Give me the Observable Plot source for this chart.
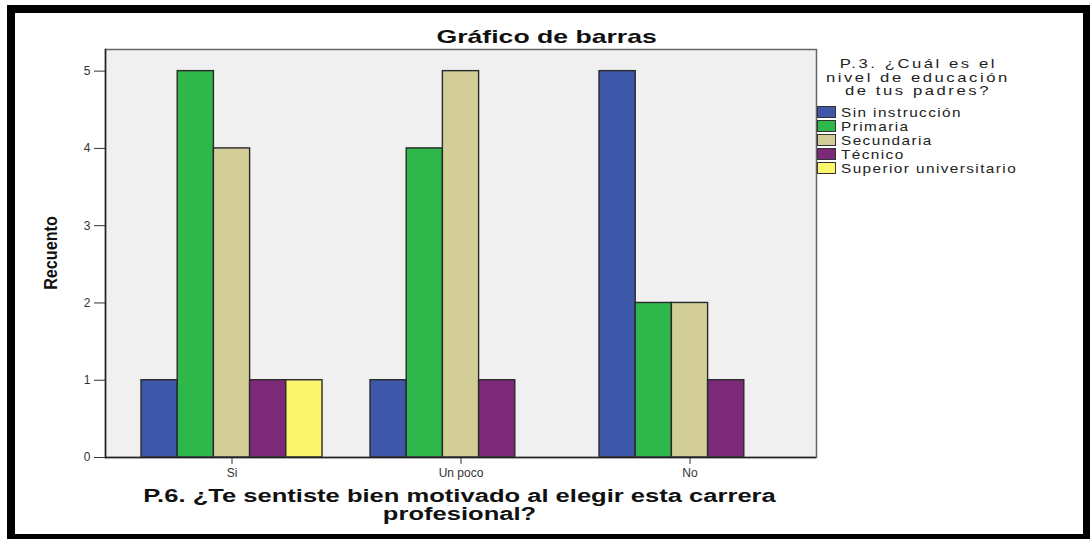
<!DOCTYPE html>
<html><head><meta charset="utf-8">
<script src="https://cdn.jsdelivr.net/npm/d3@7"></script>
<script src="https://cdn.jsdelivr.net/npm/@observablehq/plot@0.6"></script>
<style>
body{margin:0;background:#fff;}
#wrap{position:relative;width:1090px;height:539px;overflow:hidden;font-family:"Liberation Sans",Arial,sans-serif;background:#fff;}
#border{position:absolute;left:7px;top:5px;width:1068px;height:521px;border:8px solid #000;}
#chart{position:absolute;left:0;top:0;}
.t{position:absolute;white-space:nowrap;color:#111;}
.line{display:block;text-align:center;}
.sx{display:inline-block;}
#title{left:347px;width:400px;top:26px;text-align:center;font-weight:bold;font-size:19px;}
#title .sx{transform:scaleX(1.4);}
#ylab{left:51px;top:253px;transform:translate(-50%,-50%) rotate(-90deg) scaleX(0.85);font-weight:bold;font-size:19px;}
#xlab{left:160px;width:600px;top:487px;font-weight:bold;font-size:17.5px;line-height:18px;}
#xlab .sx{transform:scaleX(1.46);}
#legtitle{left:818px;width:200px;top:57px;font-size:13px;line-height:13.7px;letter-spacing:2px;color:#222;}
#legtitle .sx{transform:scaleX(1.28);}
#legend{position:absolute;left:817px;top:105px;font-size:13px;letter-spacing:1.2px;color:#222;}
.li{height:14px;display:flex;align-items:center;}
.sw{width:17px;height:10px;border:1px solid #333;margin-right:5px;flex:none;}
.li .lt{display:inline-block;transform:scaleX(1.18);transform-origin:left center;}
</style></head>
<body>
<div id="wrap">
  <div id="border"></div>
  <div id="chart"></div>
  <div class="t" id="title"></div>
  <div class="t" id="ylab"></div>
  <div class="t" id="xlab"></div>
  <div class="t" id="legtitle"></div>
  <div id="legend"></div>
</div>
<script>
const titleText = "Gráfico de barras";
const yLabel = "Recuento";
const xLabelLines = ["P.6. ¿Te sentiste bien motivado al elegir esta carrera", "profesional?"];
const legendTitleLines = ["P.3. ¿Cuál es el", "nivel de educación", "de tus padres?"];

const categories = ["Si", "Un poco", "No"];
const series = ["Sin instrucción", "Primaria", "Secundaria", "Técnico", "Superior universitario"];
const colors = ["#3d58a8", "#2eb84b", "#d3ce98", "#7c2a77", "#fcf56e"];
const siValues = [1, 5, 4, 1, 1];
const unPocoValues = [1, 4, 5, 1, 0];
const noValues = [5, 2, 2, 1, 0];
const yTicks = [0, 1, 2, 3, 4, 5];

const valuesByCategory = [siValues, unPocoValues, noValues];
const rows = [];
categories.forEach((c, ci) => series.forEach((s, si) => {
  const v = valuesByCategory[ci][si];
  if (v > 0) rows.push({cat: c, series: s, value: v});
}));

const slot = 36.2; // width of one bar slot inside a category band
const barMarks = series.map((s, i) => Plot.barY(rows.filter(r => r.series === s), {
  x: "cat", y: "value", fill: "series",
  stroke: "#2a2a2a", strokeWidth: 1.4,
  insetLeft: i * slot, insetRight: (series.length - 1 - i) * slot
}));

const chart = Plot.plot({
  width: 1090,
  height: 539,
  marginLeft: 105,
  marginRight: 274,
  marginTop: 49,
  marginBottom: 82,
  style: {background: "transparent", fontFamily: "Liberation Sans, Arial, sans-serif"},
  x: {domain: categories, paddingInner: 0.21, paddingOuter: 0.155, label: null},
  y: {domain: [0, 5.28], label: null},
  color: {domain: series, range: colors},
  marks: [
    Plot.frame({fill: "#f0f0f0"}),
    ...barMarks,
    Plot.frame({stroke: "#666", strokeWidth: 1.5}),
    Plot.axisY({ticks: yTicks, tickFormat: d3.format("d"), tickSize: 11, tickPadding: 4, fontSize: 12, color: "#333", label: null}),
    Plot.axisX({anchor: "bottom", tickSize: 7, tickPadding: 4, fontSize: 12, color: "#333", label: null}),
    Plot.ruleY([0], {stroke: "#222", strokeWidth: 1.5}),
    Plot.frame({anchor: "left", stroke: "#222", strokeWidth: 1.5})
  ]
});
document.getElementById("chart").appendChild(chart);

function fillLines(id, lines) {
  const el = document.getElementById(id);
  lines.forEach(l => {
    const d = document.createElement("div");
    d.className = "line";
    const s = document.createElement("span");
    s.className = "sx";
    s.textContent = l;
    d.appendChild(s);
    el.appendChild(d);
  });
}
fillLines("title", [titleText]);
document.getElementById("ylab").textContent = yLabel;
fillLines("xlab", xLabelLines);
fillLines("legtitle", legendTitleLines);

const leg = document.getElementById("legend");
series.forEach((s, i) => {
  const row = document.createElement("div");
  row.className = "li";
  const sw = document.createElement("span");
  sw.className = "sw";
  sw.style.background = colors[i];
  const tx = document.createElement("span");
  tx.className = "lt";
  tx.textContent = s;
  row.appendChild(sw); row.appendChild(tx);
  leg.appendChild(row);
});
</script>
</body></html>
